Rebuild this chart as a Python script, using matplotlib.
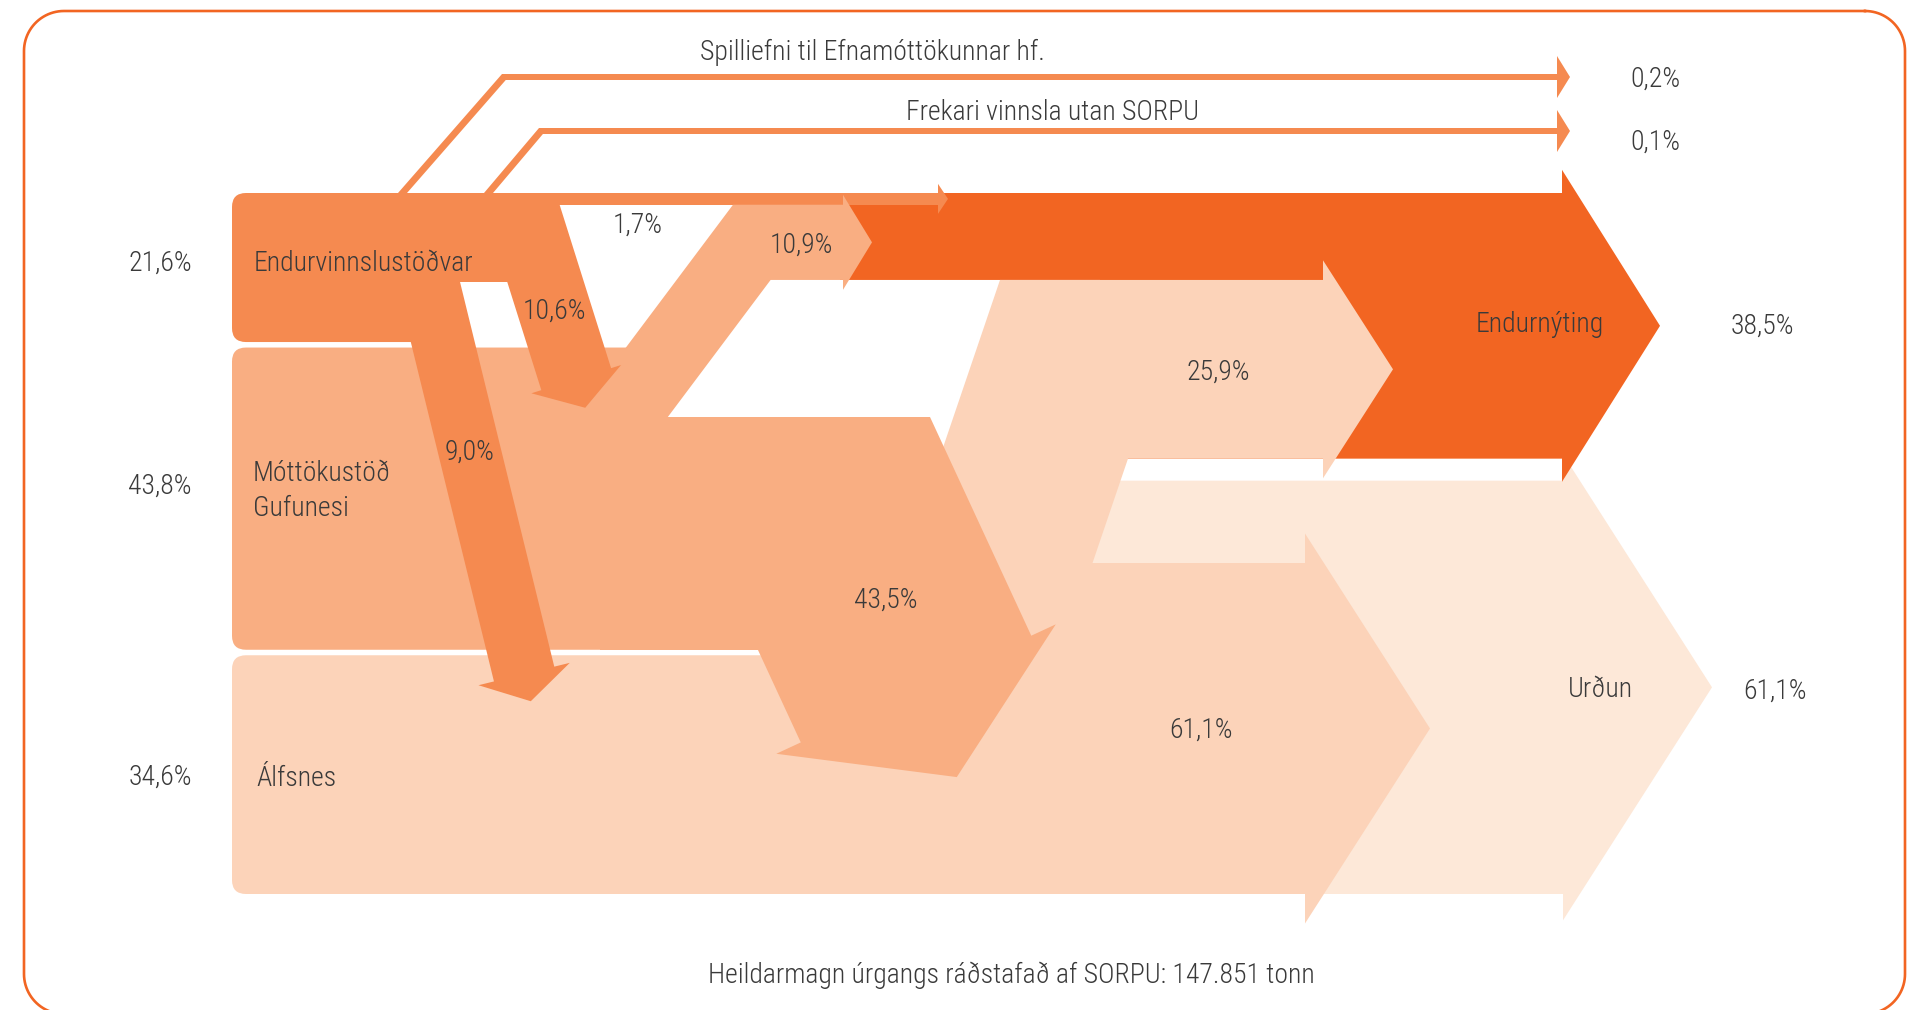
import numpy as np
import matplotlib
matplotlib.use("Agg")
import matplotlib.pyplot as plt
from matplotlib import font_manager as fm
from matplotlib.patches import Polygon, Rectangle, FancyBboxPatch

# data
sources = ["Endurvinnslustöðvar", "Móttökustöð\nGufunesi", "Álfsnes"]
source_pct = [21.6, 43.8, 34.6]
side_outputs = ["Spilliefni til Efnamóttökunnar hf.", "Frekari vinnsla utan SORPU"]
side_pct = [0.2, 0.1]
e_flows = [1.7, 10.6, 9.0]   # endurvinnslustöðvar -> endurnýting, Gufunes, Álfsnes
m_flows = [10.9, 43.5]       # Gufunes -> endurnýting, Álfsnes
a_flows = [25.9, 61.1]       # Álfsnes -> endurnýting, urðun
outputs = ["Endurnýting", "Urðun"]
output_pct = [38.5, 61.1]
total_tonn = "147.851"

# colours
C_E = "#f58a50"
C_M = "#f9ae82"
C_A = "#fcd3b9"
C_U = "#fde8d8"
C_R = "#f26522"
TXT = "#3a3a3a"

W, H = 1911, 1010
K = 6.9        # px per percent
X0 = 232
Y0 = 193
GAP = 5.5

src_top, src_bot = [], []
y = Y0
for p in source_pct:
    src_top.append(y)
    src_bot.append(y + p * K)
    y += p * K + GAP

# stacked inflows of Endurnýting
r_edges = Y0 + K * np.cumsum([0, e_flows[0], m_flows[0], a_flows[0]])
U_TOP = r_edges[-1] + 22
U_BOT = src_bot[2]

# font
ttf = fm.fontManager.ttflist
names = {f.name for f in ttf}
if "Roboto Condensed" in names:
    FONT = dict(family="Roboto Condensed", weight="light", size=20)
elif "Liberation Sans Narrow" in names:
    FONT = dict(family="Liberation Sans Narrow", size=19.5)
elif any("DejaVuSansCondensed" in f.fname for f in ttf):
    FONT = dict(family="DejaVu Sans", stretch="condensed", size=17)
else:
    FONT = dict(family="Roboto", weight="light", size=16.5)


def pct(v):
    return f"{v:.1f}".replace(".", ",") + "%"


fig = plt.figure(figsize=(W / 100, H / 100), dpi=100)
ax = fig.add_axes([0, 0, 1, 1])
ax.set_xlim(0, W)
ax.set_ylim(H, 0)
ax.axis("off")


def poly(pts, color, z):
    ax.add_patch(Polygon(np.asarray(pts, float), closed=True, fc=color, ec="none", lw=0, zorder=z))


def rect(x0, y0, x1, y1, color, z):
    ax.add_patch(Rectangle((x0, y0), x1 - x0, y1 - y0, fc=color, ec="none", lw=0, zorder=z))


def rbox(x0, y0, x1, y1, color, z, r=14):
    ax.add_patch(FancyBboxPatch((x0, y0), x1 - x0, y1 - y0,
                                boxstyle=f"round,pad=0,rounding_size={r}",
                                fc=color, ec="none", lw=0, zorder=z))


def chevron(x0, x1, y0, y1, head_half, tip):
    yc = (y0 + y1) / 2
    return [(x0, y0), (x1, y0), (x1, yc - head_half), (tip, yc),
            (x1, yc + head_half), (x1, y1), (x0, y1)]


def slant_arrow(right, d, width, length, head_half, head_len):
    d = np.asarray(d, float)
    d = d / np.hypot(*d)
    n = np.array([d[1], -d[0]])
    r0 = np.asarray(right, float)
    c1 = r0 - n * width / 2 + d * length
    return [r0, r0 + d * length, c1 + n * head_half, c1 + d * head_len,
            c1 - n * head_half, r0 - n * width + d * length, r0 - n * width]


def bent_band(x_top, ya, yb, slope, width_pct, y_end, x_back, head_half, tip):
    hw = width_pct * K * np.hypot(1, slope)
    xl = lambda yy: x_top + slope * (yy - ya)
    xr = lambda yy: xl(yy) + hw
    yc = (ya + yb) / 2
    return [(xl(ya), ya), (x_back, ya), (x_back, yc - head_half), (tip, yc),
            (x_back, yc + head_half), (x_back, yb), (xr(yb), yb),
            (xr(y_end), y_end), (xl(y_end), y_end)]


def thin_arrow(x_foot, y_mid, x_corner, t=6, foot_w=9, x_back=1557, head_half=21, tip=1570):
    y_up, y_lo = y_mid - t / 2, y_mid + t / 2
    slope = (x_corner - x_foot) / (y_up - Y0)
    x_in = x_foot + foot_w + slope * (y_lo - Y0)
    return [(x_foot, Y0), (x_foot + foot_w, Y0), (x_in, y_lo), (x_back, y_lo),
            (x_back, y_mid + head_half), (tip, y_mid), (x_back, y_mid - head_half),
            (x_back, y_up), (x_corner, y_up)]


def rounded_outline(x0, y0, x1, y1, r, n=24):
    pts = []
    corners = [(x1 - r, y0 + r, -90, 0), (x1 - r, y1 - r, 0, 90),
               (x0 + r, y1 - r, 90, 180), (x0 + r, y0 + r, 180, 270)]
    for cx, cy, a0, a1 in corners:
        t = np.radians(np.linspace(a0, a1, n))
        pts.extend(zip(cx + r * np.cos(t), cy + r * np.sin(t)))
    pts.append(pts[0])
    return np.array(pts)


# urðun
poly(chevron(1040, 1563, U_TOP, U_BOT, 233, 1712), C_U, 1)

# endurnýting
yc = (r_edges[0] + r_edges[-1]) / 2
poly([(840, Y0), (1562, Y0), (1562, yc - 156), (1660, yc), (1562, yc + 156),
      (1562, r_edges[-1]), (1100, r_edges[-1]), (1100, r_edges[2]), (840, r_edges[2])], C_R, 2)

# álfsnes
rbox(X0, src_top[2], 1305, src_bot[2], C_A, 3)
poly(chevron(1000, 1305, 563, U_BOT, 195, 1430), C_A, 3)
poly(bent_band(1000, r_edges[2], r_edges[3], -0.34, a_flows[0], 660, 1323, 109, 1393), C_A, 3)

# móttökustöð gufunesi
rbox(X0, src_top[1], 640, src_bot[1], C_M, 4)
rect(600, 417, 930, src_bot[1], C_M, 4)
poly(slant_arrow((930, 417), (0.4202, 0.9074), 254, 241, 154, 97), C_M, 4)

# 1,7% strip to endurnýting
ym = (r_edges[0] + r_edges[1]) / 2
rect(260, Y0, 938, r_edges[1], C_E, 4.5)
poly([(938, ym - 15), (948, ym), (938, ym + 15)], C_E, 4.5)

# 10,9% band
poly(bent_band(733, r_edges[1], r_edges[2], -0.75, m_flows[0], 417, 843, 47.5, 872), C_M, 5)

# endurvinnslustöðvar
rbox(X0, Y0, 455, src_bot[0], C_E, 6)
rect(260, Y0, 540, 282, C_E, 6)
poly(slant_arrow((557.6, 198.4), (0.3005, 0.9538), e_flows[1] * K, 178, 47, 30), C_E, 6)
poly(slant_arrow((458.6, 276.2), (0.238, 0.9713), e_flows[2] * K, 402, 47, 28), C_E, 6)

# side outputs
poly(thin_arrow(398, 77, 502), C_E, 7)
poly(thin_arrow(484, 131, 539), C_E, 7)

# border
b = rounded_outline(24, 11, 1905, 1014, 40)
ax.plot(b[:, 0], b[:, 1], color=C_R, lw=1.9, zorder=8, solid_joinstyle="round")


def label(x, yy, s, ha="center"):
    ax.text(x, yy, s, ha=ha, va="baseline", color=TXT, zorder=10, **FONT)


# source labels
label(160, 271, pct(source_pct[0]))
label(160, 494, pct(source_pct[1]))
label(160, 785, pct(source_pct[2]))
label(254, 271, sources[0], ha="left")
line1, line2 = sources[1].split("\n")
label(253, 481, line1, ha="left")
label(253, 516, line2, ha="left")
label(256, 786, sources[2], ha="left")

# flow labels
label(638, 233, pct(e_flows[0]))
label(554, 319, pct(e_flows[1]))
label(470, 460, pct(e_flows[2]))
label(801, 253, pct(m_flows[0]))
label(886, 608, pct(m_flows[1]))
label(1218, 380, pct(a_flows[0]))
label(1201, 738, pct(a_flows[1]))

# outputs
label(1540, 332, outputs[0])
label(1762, 334, pct(output_pct[0]))
label(1600, 697, outputs[1])
label(1775, 699, pct(output_pct[1]))
label(872, 60, side_outputs[0])
label(1052, 120, side_outputs[1])
label(1655, 87, pct(side_pct[0]))
label(1655, 150, pct(side_pct[1]))

label(1011, 983, f"Heildarmagn úrgangs ráðstafað af SORPU: {total_tonn} tonn")

fig.savefig("out.png", dpi=100)
